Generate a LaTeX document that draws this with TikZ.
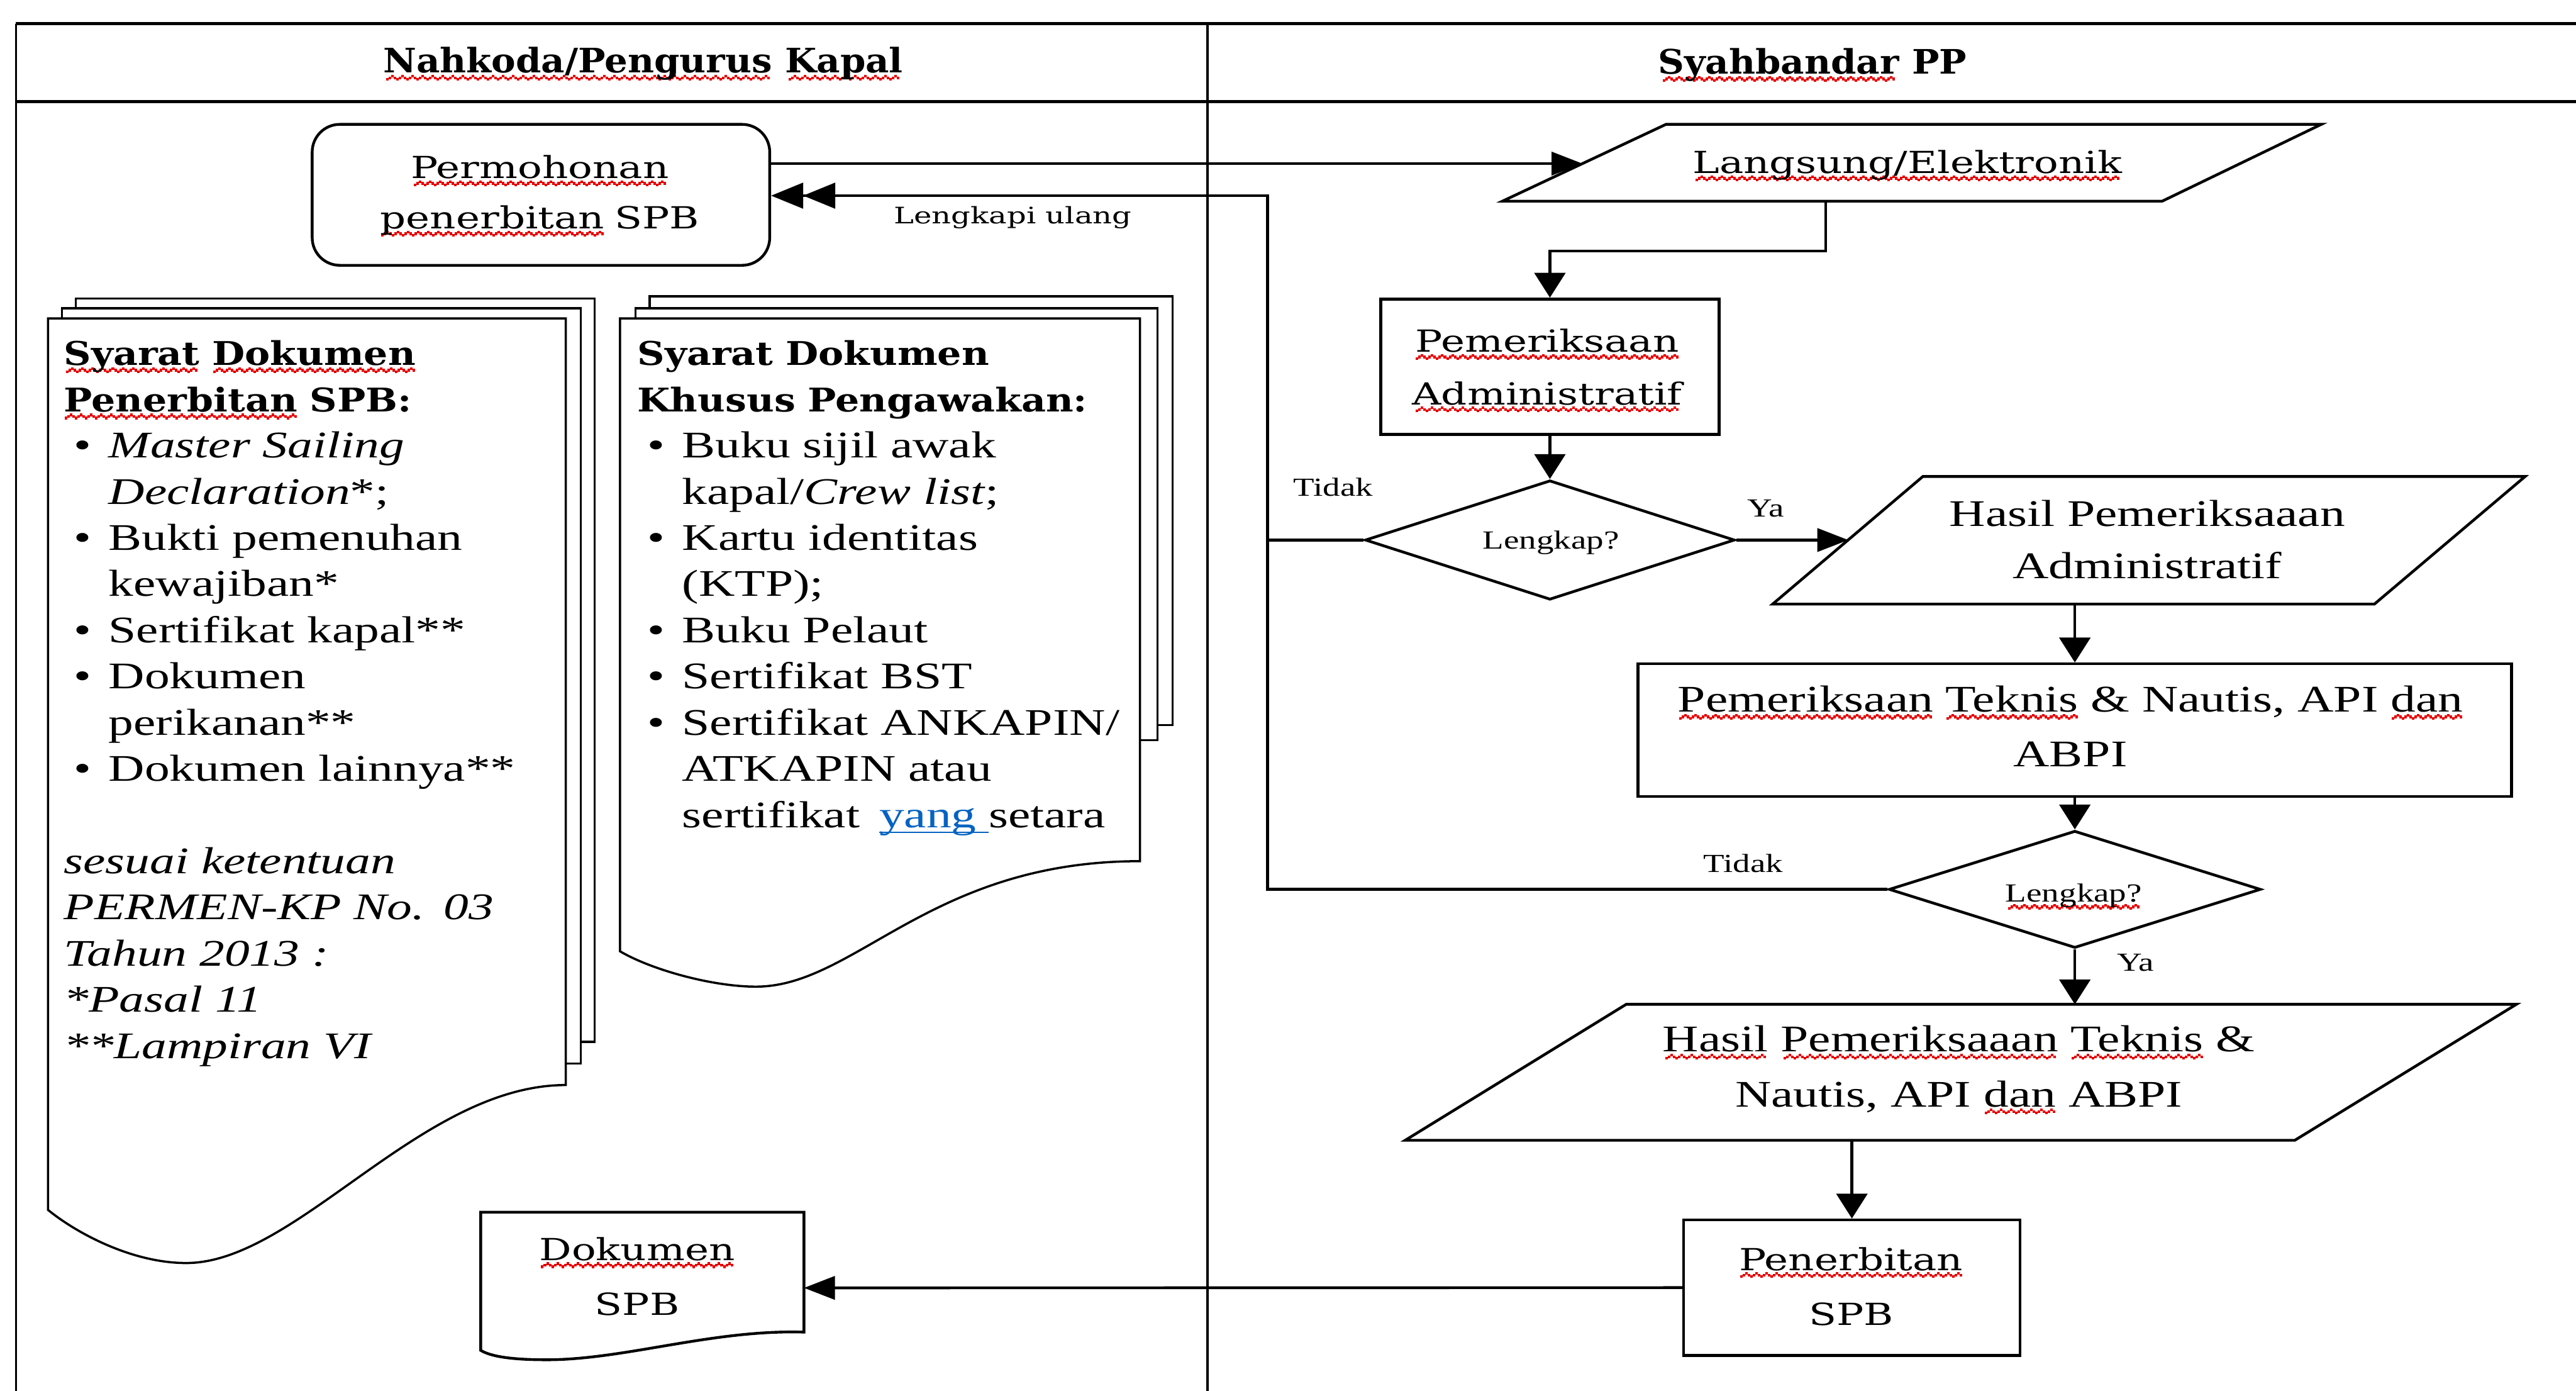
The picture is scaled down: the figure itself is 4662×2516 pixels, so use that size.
\documentclass[tikz,border=0pt]{standalone}
\usepackage{fontspec}
\usetikzlibrary{arrows.meta,shapes.geometric}
\newfontfamily\gar[FakeStretch=1.33]{Liberation Serif}
\newfontfamily\cam[FakeStretch=1.33]{DejaVu Serif}
\newfontfamily\camb[FakeStretch=1.08]{DejaVu Serif}
\newfontfamily\cambd[FakeStretch=1.16]{DejaVu Serif}
\definecolor{sqred}{RGB}{230,0,0}
\definecolor{lnk}{RGB}{5,99,193}
\newsavebox\sqbox
\newcommand\squnit{\rule[-4.0pt]{1.3pt}{1.4pt}\rule[-3.2pt]{1.3pt}{1.4pt}\rule[-2.4pt]{1.3pt}{1.4pt}\rule[-3.2pt]{1.3pt}{1.4pt}}
\newcommand\sq[1]{\sbox\sqbox{#1}\leavevmode\rlap{\color{sqred}\hbox to \wd\sqbox{\cleaders\hbox{\squnit}\hfil}}\usebox\sqbox}
\newcommand\uln[1]{\sbox\sqbox{#1}\leavevmode\rlap{\rule[-3pt]{\wd\sqbox}{0.9pt}}\usebox\sqbox}
\newcommand\blt{\makebox[8.1mm][l]{\hspace{1.8mm}\textbullet}}
\newcommand\indt{\hspace*{8.1mm}}
\begin{document}
\begin{tikzpicture}[x=0.1mm, y=-0.1mm,
 lnH/.style={line width=0.6mm},
 lnV/.style={line width=0.4mm},
 shp/.style={draw, line width=0.5mm, fill=white},
 boxn/.style={shp, rectangle, inner sep=0pt},
 dian/.style={shp, diamond, inner sep=0pt},
 docl/.style={draw, line width=0.4mm, fill=white},
 con/.style={line width=0.5mm},
 arrH/.style={con, -{Triangle[length=5.6mm,width=4.2mm]}},
 arrV/.style={con, -{Triangle[length=4.5mm,width=5.6mm]}},
 arrD/.style={con, -{Triangle[length=5.8mm,width=4.6mm,sep=0pt]Triangle[length=5.8mm,width=4.6mm]}},
 ttxt/.style={inner sep=0pt, anchor=base, align=center, text width=#1},
 stxt/.style={inner sep=0pt, anchor=base, font=\gar\fontsize{13.4}{16}\selectfont},
 ltxt/.style={inner sep=0pt, anchor=base west, align=left, text width=95mm, font=\gar\fontsize{19.35}{23.78}\selectfont},
 hdg/.style={inner sep=0pt, anchor=base, font=\camb\bfseries\fontsize{17.35}{20}\selectfont},
]
\useasboundingbox (0,0) rectangle (4662,2516);
\fill[white] (0,0) rectangle (4662,2516);

% swimlanes
\draw[lnH] (29,43) -- (4662,43);
\draw[lnH] (29,184) -- (4662,184);
\draw[lnV] (29,43) -- (29,2516);
\draw[lnV] (2185,43) -- (2185,2516);

% left multi-document
\draw[docl] (137,540) rectangle (1076,1885);
\draw[docl] (112,558) rectangle (1051,1924);
\draw[docl] (87,576) -- (1024,576) -- (1024,1963) .. controls (762,1963) and (537,2285) .. (337,2285) .. controls (240,2285) and (140,2232) .. (87,2189) -- cycle;
% right multi-document
\draw[docl] (1176,536) rectangle (2122,1312);
\draw[docl] (1150,558) rectangle (2095,1339);
\draw[docl] (1122,576) -- (2063,576) -- (2063,1558) .. controls (1683,1558) and (1548,1785) .. (1368,1785) .. controls (1290,1785) and (1180,1755) .. (1122,1721) -- cycle;
% Dokumen SPB
\draw[shp] (870,2193) -- (1455,2193) -- (1455,2410) .. controls (1290,2405) and (1130,2460) .. (990,2460) .. controls (930,2460) and (890,2455) .. (870,2443) -- cycle;
\coordinate (dokR) at (1455,2330);

% shapes
\node[boxn, rounded corners=5mm, minimum width=82.8mm, minimum height=25.5mm] (perm) at (979,352.5) {};
\draw[shp] (3015,225) -- (4201,225) -- (3913,364) -- (2719,364) -- cycle;
\coordinate (langIn) at (2864,296);
\coordinate (langOut) at (3304,364);
\node[boxn, minimum width=61.2mm, minimum height=24.5mm] (adm) at (2805,663.5) {};
\node[dian, minimum width=66.9mm, minimum height=21.6mm] (d1) at (2805,977) {};
\draw[shp] (3480,862) -- (4570,862) -- (4297,1093) -- (3208,1093) -- cycle;
\coordinate (hadmIn) at (3345,977);
\coordinate (hadmOut) at (3755,1093);
\node[boxn, minimum width=158.1mm, minimum height=24mm] (tek) at (3755,1321) {};
\node[dian, minimum width=67.3mm, minimum height=21.2mm] (d2) at (3755,1609) {};
\draw[shp] (2943,1817) -- (4554,1817) -- (4153,2063) -- (2543,2063) -- cycle;
\coordinate (htekIn) at (3755,1817);
\coordinate (htekOut) at (3351.5,2063);
\node[boxn, minimum width=60.9mm, minimum height=24.5mm] (pen) at (3351.5,2329.5) {};
\coordinate (ret) at (2294,354);

% connectors
\draw[arrH] (perm.east |- langIn) -- (langIn);
\draw[arrV] (langOut) -- ++(0,90) -| (adm.north);
\draw[arrV] (adm.south) -- (d1.north);
\draw[arrH] (d1.east) -- (hadmIn);
\draw[arrV] (hadmOut) -- (tek.north);
\draw[arrV] (tek.south) -- (d2.north);
\draw[arrV] (d2.south) -- (htekIn);
\draw[arrV] (htekOut) -- (pen.north);
\draw[arrH] (pen.west) -- (dokR);
\draw[con] (d1.west) -- (d1.west -| ret);
\draw[arrD] (d2.west) -| (ret) -- (perm.east |- ret);

% texts
\node[hdg] (nahT) at (1164,132) {\sq{Nahkoda/Pengurus} \sq{Kapal}};
\node[hdg] (syaT) at (3280,134) {\sq{Syahbandar} PP};
\node[ttxt=80mm, font=\cam\fontsize{15.65}{25.9}\selectfont] (permT) at (977,323) {\sq{Permohonan}\\\sq{penerbitan} SPB};
\node[inner sep=0pt, anchor=base, font=\cam\fontsize{11.7}{14}\selectfont] (lkuT) at (1833,405) {Lengkapi ulang};
\node[inner sep=0pt, anchor=base, font=\cam\fontsize{15.65}{20}\selectfont] (langT) at (3452,314) {\sq{Langsung/Elektronik}};
\node[ttxt=60mm, font=\cam\fontsize{15.65}{27}\selectfont] (admT) at (2800,637) {\sq{Pemeriksaan}\\\sq{Administratif}};
\node[stxt] (td1) at (2413,898) {Tidak};
\node[stxt] (lk1) at (2807,993) {Lengkap?};
\node[stxt] (ya1) at (3196,935) {Ya};
\node[ttxt=100mm, font=\gar\fontsize{19.35}{27}\selectfont] (hadmT) at (3886,952) {Hasil Pemeriksaaan\\Administratif};
\node[ttxt=155mm, font=\gar\fontsize{19.35}{28.2}\selectfont] (tekT) at (3747,1288) {\sq{Pemeriksaan} \sq{Teknis} \& Nautis, API \sq{dan}\\ABPI};
\node[stxt] (td2) at (3155,1578) {Tidak};
\node[stxt] (lk2) at (3753,1632) {\sq{Lengkap?}};
\node[stxt] (ya2) at (3865,1757) {Ya};
\node[ttxt=130mm, font=\gar\fontsize{19.35}{28.2}\selectfont] (htekT) at (3545,1903) {\sq{Hasil} \sq{Pemeriksaaan} \sq{Teknis} \&\\Nautis, API \sq{dan} ABPI};
\node[ttxt=60mm, font=\cam\fontsize{15.65}{28.2}\selectfont] (penT) at (3350,2298) {\sq{Penerbitan}\\SPB};
\node[ttxt=55mm, font=\cam\fontsize{15.65}{28.2}\selectfont] (dokT) at (1153,2280) {\sq{Dokumen}\\SPB};

\node[ltxt] (ldocT) at (115,661) {%
{\cambd\bfseries\fontsize{16.8}{23.78}\selectfont \sq{Syarat} \sq{Dokumen}}\\
{\cambd\bfseries\fontsize{16.8}{23.78}\selectfont \sq{Penerbitan} SPB:}\\
\blt\textit{Master Sailing}\\
\indt\textit{Declaration}*;\\
\blt Bukti pemenuhan\\
\indt kewajiban*\\
\blt Sertifikat kapal**\\
\blt Dokumen\\
\indt perikanan**\\
\blt Dokumen lainnya**\\
\mbox{}\\
\textit{sesuai ketentuan}\\
\textit{PERMEN-KP No. 03}\\
\textit{Tahun 2013 :}\\
\textit{*Pasal 11}\\
\textit{**Lampiran VI}};

\node[ltxt] (rdocT) at (1153,661) {%
{\cambd\bfseries\fontsize{16.8}{23.78}\selectfont Syarat Dokumen}\\
{\cambd\bfseries\fontsize{16.8}{23.78}\selectfont Khusus Pengawakan:}\\
\blt Buku sijil awak\\
\indt kapal/\textit{Crew list};\\
\blt Kartu identitas\\
\indt (KTP);\\
\blt Buku Pelaut\\
\blt Sertifikat BST\\
\blt Sertifikat ANKAPIN/\\
\indt ATKAPIN atau\\
\indt sertifikat\hspace{3.5mm}\textcolor{lnk}{\uln{yang\ }}setara};
\end{tikzpicture}
\end{document}
